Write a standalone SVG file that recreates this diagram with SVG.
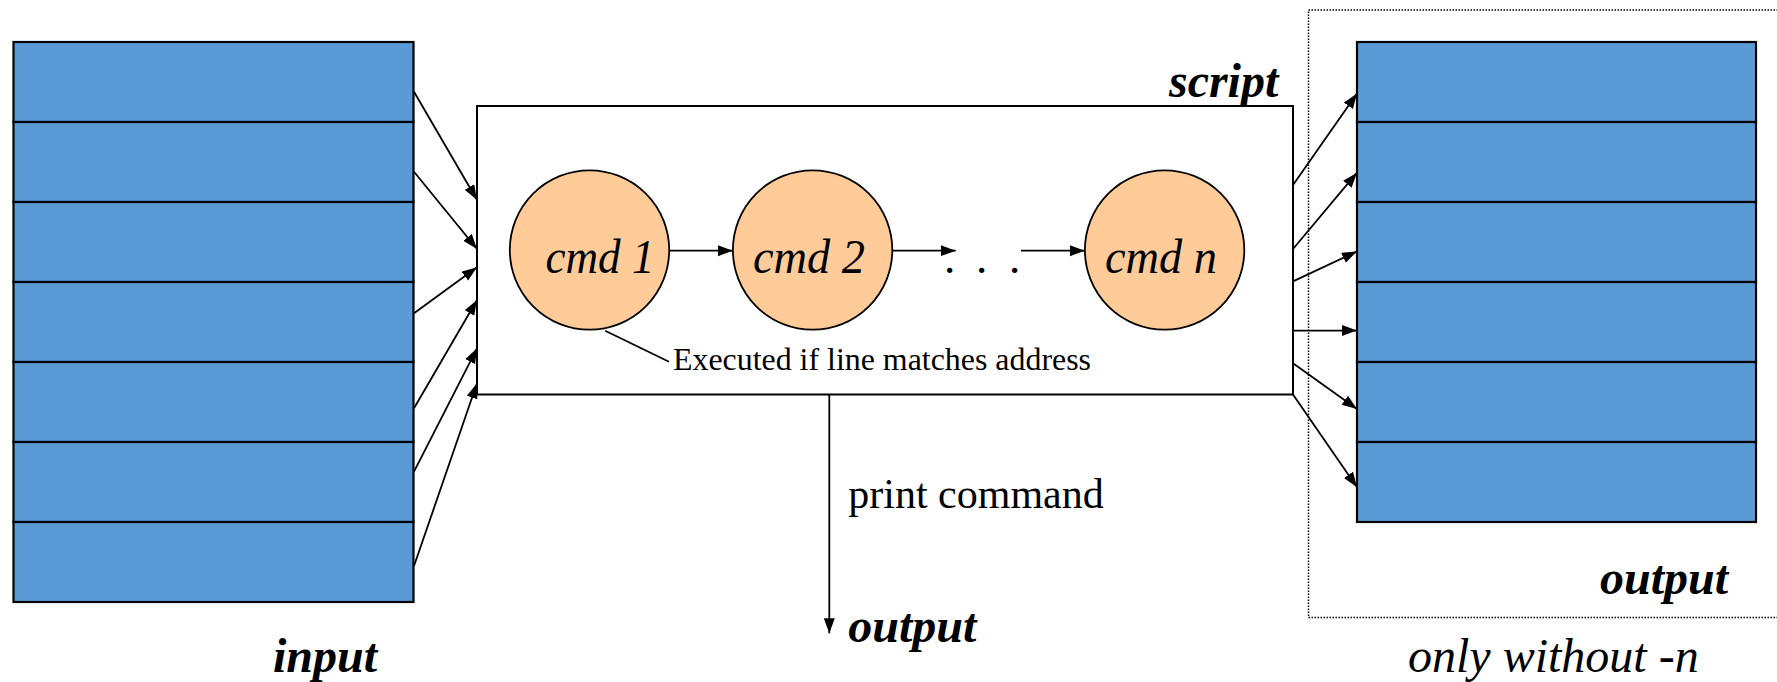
<svg xmlns="http://www.w3.org/2000/svg" width="1777" height="682" viewBox="0 0 1777 682">
  <style>
    .row { fill: #5B9BD5; stroke: #000; stroke-width: 2.2; }
    .cmd { fill: #FFCC99; stroke: #000; stroke-width: 1.8; }
    .conn { stroke: #000; stroke-width: 1.8; fill: none; }
    .bi { font-family: "Liberation Serif", "Times New Roman", serif; font-style: italic; font-weight: bold; font-size: 48px; fill: #000; }
    .it { font-family: "Liberation Serif", "Times New Roman", serif; font-style: italic; fill: #000; }
    .rg { font-family: "Liberation Serif", "Times New Roman", serif; fill: #000; }
  </style>
  <defs>
    <marker id="ah" markerUnits="userSpaceOnUse" markerWidth="16" markerHeight="12" refX="15" refY="5.5" orient="auto">
      <path d="M0,0 L15,5.5 L0,11 z" fill="#000"/>
    </marker>
  </defs>
  <rect width="1777" height="682" fill="#fff"/>

  <g id="output-region">
    <path d="M1778,10 H1308.5 V617.5 H1778" fill="none" stroke="#000" stroke-width="1.5" stroke-dasharray="1.5 1.5"/>
  </g>

  <g id="input-stack">
    <rect class="row" x="13.5" y="42" width="400" height="80"/>
    <rect class="row" x="13.5" y="122" width="400" height="80"/>
    <rect class="row" x="13.5" y="202" width="400" height="80"/>
    <rect class="row" x="13.5" y="282" width="400" height="80"/>
    <rect class="row" x="13.5" y="362" width="400" height="80"/>
    <rect class="row" x="13.5" y="442" width="400" height="80"/>
    <rect class="row" x="13.5" y="522" width="400" height="80"/>
  </g>

  <g id="output-stack">
    <rect class="row" x="1357" y="42" width="399" height="80"/>
    <rect class="row" x="1357" y="122" width="399" height="80"/>
    <rect class="row" x="1357" y="202" width="399" height="80"/>
    <rect class="row" x="1357" y="282" width="399" height="80"/>
    <rect class="row" x="1357" y="362" width="399" height="80"/>
    <rect class="row" x="1357" y="442" width="399" height="80"/>
  </g>

  <g id="script-box">
    <rect x="477" y="106" width="816" height="288.5" fill="#fff" stroke="#000" stroke-width="2"/>
  </g>

  <g id="cmd1">
    <circle class="cmd" cx="589.5" cy="250" r="79.7"/>
    <text class="it" x="545.5" y="272.7" font-size="48" textLength="109" lengthAdjust="spacingAndGlyphs">cmd 1</text>
  </g>
  <g id="cmd2">
    <circle class="cmd" cx="812.6" cy="250" r="79.7"/>
    <text class="it" x="753" y="272.7" font-size="48" textLength="112" lengthAdjust="spacingAndGlyphs">cmd 2</text>
  </g>
  <g id="ellipsis">
    <text class="rg" x="944 976 1009" y="272.7" font-size="45">...</text>
  </g>
  <g id="cmdn">
    <circle class="cmd" cx="1164.6" cy="250" r="79.7"/>
    <text class="it" x="1105" y="272.7" font-size="48" textLength="112" lengthAdjust="spacingAndGlyphs">cmd n</text>
  </g>

  <g id="connectors">
    <line class="conn" x1="414" y1="91.7" x2="477" y2="200" marker-end="url(#ah)"/>
    <line class="conn" x1="414" y1="171.7" x2="477" y2="249" marker-end="url(#ah)"/>
    <line class="conn" x1="414" y1="313.3" x2="477" y2="267.3" marker-end="url(#ah)"/>
    <line class="conn" x1="414" y1="408.3" x2="477" y2="300" marker-end="url(#ah)"/>
    <line class="conn" x1="414" y1="471.7" x2="477" y2="348.3" marker-end="url(#ah)"/>
    <line class="conn" x1="414" y1="566" x2="477" y2="383.3" marker-end="url(#ah)"/>
    <line class="conn" x1="669.2" y1="250.7" x2="732.8" y2="250.7" marker-end="url(#ah)"/>
    <line class="conn" x1="892.3" y1="250.7" x2="955.7" y2="250.7" marker-end="url(#ah)"/>
    <line class="conn" x1="1021" y1="250.7" x2="1084.8" y2="250.7" marker-end="url(#ah)"/>
    <line class="conn" x1="1293" y1="185" x2="1357" y2="93.5" marker-end="url(#ah)"/>
    <line class="conn" x1="1293" y1="249" x2="1357" y2="172.7" marker-end="url(#ah)"/>
    <line class="conn" x1="1293" y1="281.4" x2="1357" y2="251.4" marker-end="url(#ah)"/>
    <line class="conn" x1="1293" y1="330.6" x2="1357" y2="330.6" marker-end="url(#ah)"/>
    <line class="conn" x1="1293" y1="363.2" x2="1357" y2="408.9" marker-end="url(#ah)"/>
    <line class="conn" x1="1293" y1="394.5" x2="1357" y2="487.2" marker-end="url(#ah)"/>
    <line class="conn" x1="829.3" y1="394.5" x2="829.3" y2="633.3" marker-end="url(#ah)"/>
    <line class="conn" x1="605.2" y1="330.7" x2="669" y2="361.7" stroke-width="1.5"/>
  </g>

  <g id="labels">
    <text class="bi" x="1278.3" y="96.7" text-anchor="end">script</text>
    <text class="rg" x="673" y="370" font-size="31" textLength="418" lengthAdjust="spacingAndGlyphs">Executed if line matches address</text>
    <text class="rg" x="848.3" y="508.3" font-size="42">print command</text>
    <text class="bi" x="848.3" y="641.7">output</text>
    <text class="bi" x="273" y="671.7">input</text>
    <text class="bi" x="1600" y="593.7">output</text>
    <text class="it" x="1408" y="672" font-size="48">only without -n</text>
  </g>
</svg>
